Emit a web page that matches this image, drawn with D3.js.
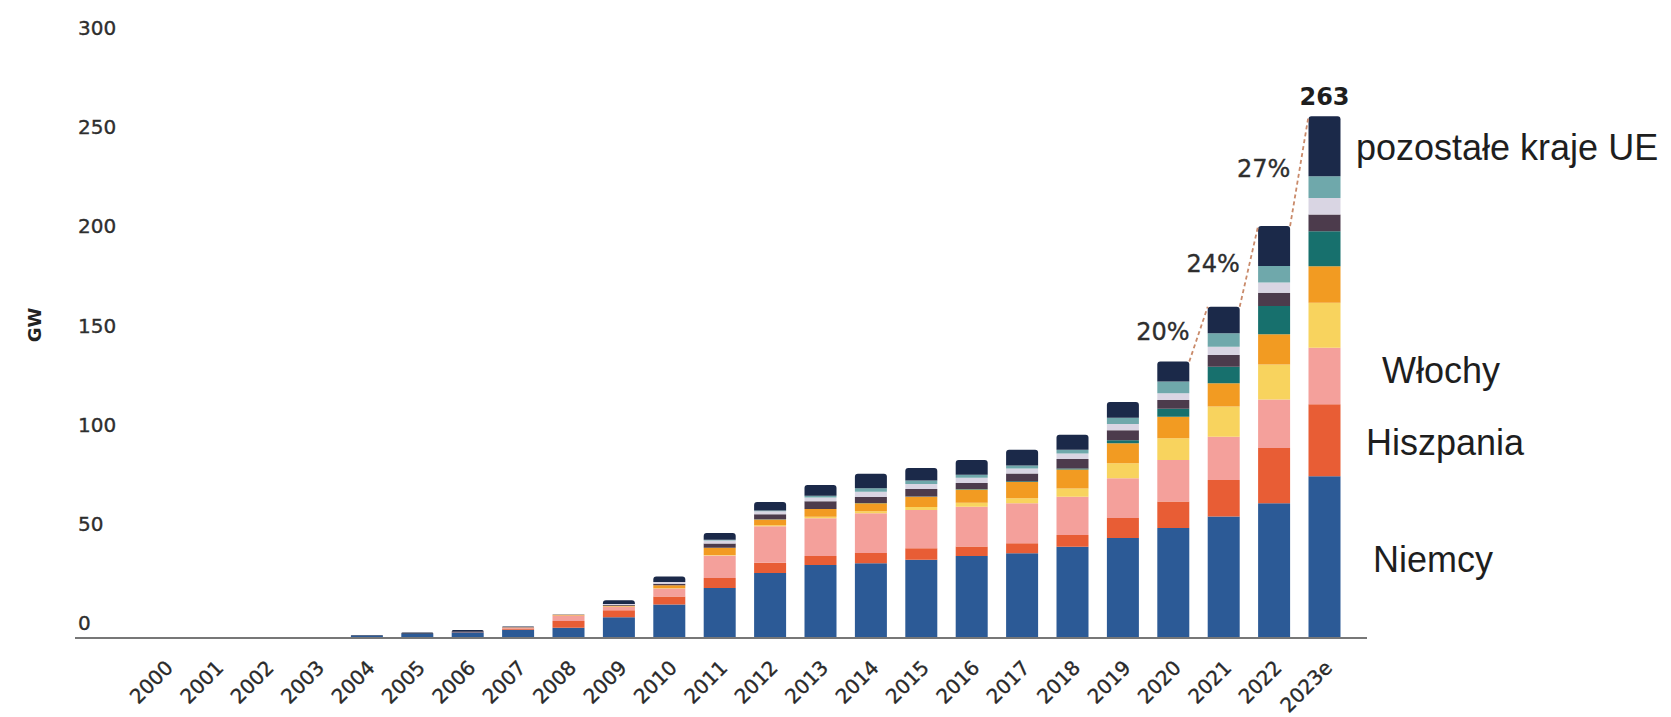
<!DOCTYPE html>
<html><head><meta charset="utf-8">
<script src="https://cdn.jsdelivr.net/npm/d3@7"></script>
<style>body{margin:0;background:#fff}svg{display:block}</style>
</head><body><svg id="c" width="1671" height="717"></svg>
<script>
const years = ["2000","2001","2002","2003","2004","2005","2006","2007","2008","2009","2010","2011","2012","2013","2014","2015","2016","2017","2018","2019","2020","2021","2022","2023e"];
const seriesNames = ["Niemcy","Hiszpania","Włochy","Holandia","Francja","Polska","Belgia","Grecja","Austria","pozostałe kraje UE"];
const niemcy    = [0.1,0.2,0.3,0.4,1.2,2.1,2.9,4.1,5.2,10.4,16.9,25.2,32.8,36.8,37.7,39.4,41.4,42.7,46.0,50.4,55.4,61.2,68.0,81.6];
const hiszpania = [0,0,0,0,0,0.1,0.2,0.7,3.4,3.6,4.0,5.1,5.1,4.6,5.1,5.8,4.7,5.1,5.9,10.1,13.4,18.5,27.8,36.2];
const wlochy    = [0,0,0,0,0,0,0.1,0.5,2.8,1.8,4.0,11.3,18.5,19.0,20.1,19.3,20.1,20.1,19.3,20.1,21.0,21.8,24.4,28.5];
const holandia  = [0,0,0,0,0,0,0,0,0,0.1,0.2,0.3,0.4,0.7,1.0,1.5,2.0,2.5,4.2,7.5,10.9,15.2,17.7,22.7];
const francja   = [0,0,0,0,0,0,0,0.1,0.3,0.4,1.5,3.6,3.0,3.9,4.1,5.2,6.7,8.3,9.6,10.1,10.9,11.8,15.2,18.5];
const polska    = [0,0,0,0,0,0,0,0,0,0,0,0,0.1,0.1,0.1,0.1,0.2,0.3,0.5,1.5,4.0,8.3,14.3,17.6];
const belgia    = [0,0,0,0,0,0,0,0,0,0.4,0.8,2.2,2.5,3.8,3.0,3.8,3.1,3.9,4.7,5.0,4.4,5.9,6.7,8.4];
const grecja    = [0,0,0,0,0,0,0,0,0.1,0.4,0.8,1.4,1.5,2.0,2.6,2.6,2.6,2.6,2.8,3.2,3.4,4.2,5.1,8.4];
const austria   = [0,0,0,0,0,0,0,0,0,0,0,0.5,0.4,0.8,1.8,1.7,1.5,1.5,1.9,3.1,5.9,6.7,8.4,10.9];
const pozostale = [0,0,0,0,0.3,0.6,0.8,0.4,0.2,1.9,2.8,3.3,4.3,5.5,7.3,6.3,7.5,7.9,7.6,8.0,10.1,13.4,20.1,30.3];
const seriesValues = [niemcy,hiszpania,wlochy,holandia,francja,polska,belgia,grecja,austria,pozostale];
const colors = ["#2c5a96","#e85d35","#f4a09b","#f8d35e","#f29b22","#17706d","#4c3b4c","#d9d5e3","#6fa8ab","#1b2949"];
const yTicks = [0,50,100,150,200,250,300];
const sideLabels = [
  {text:"pozostałe kraje UE", x:1356, y:160},
  {text:"Włochy", x:1382, y:383},
  {text:"Hiszpania", x:1366, y:455},
  {text:"Niemcy", x:1373, y:572}
];
const growthFrom = ["2020","2021","2022"];

const rows = years.map((yr,i)=>{
  const r = {year:yr};
  seriesNames.forEach((s,j)=>{ r[s] = seriesValues[j][i]; });
  return r;
});
const totals = rows.map(r=>d3.sum(seriesNames,s=>r[s]));

const svg = d3.select("#c");
const x = d3.scaleBand().domain(years).range([140.1,1349.7]).paddingInner(0.365).paddingOuter(0.1825);
const y = d3.scaleLinear().domain([0,300]).range([638,43]);
const color = d3.scaleOrdinal().domain(seriesNames).range(colors);

const stacked = d3.stack().keys(seriesNames)(rows);
const topIdx = rows.map(r=>{ let t=-1; seriesNames.forEach((s,j)=>{ if(r[s]>0) t=j; }); return t; });

const g = svg.append("g");
stacked.forEach((layer,j)=>{
  g.append("g").attr("fill", color(layer.key))
    .selectAll("path").data(layer).join("path")
    .attr("d",(d,i)=>{
      const x0 = x(d.data.year), w = x.bandwidth();
      const yt = y(d[1]), yb = y(d[0]);
      const h = yb - yt;
      if(h<=0) return null;
      const r = (topIdx[i]===j) ? Math.min(3,h) : 0;
      return `M${x0},${yb}V${yt+r}Q${x0},${yt} ${x0+r},${yt}H${x0+w-r}Q${x0+w},${yt} ${x0+w},${yt+r}V${yb}Z`;
    });
});

// baseline
svg.append("line").attr("x1",75).attr("x2",1367).attr("y1",y(0)).attr("y2",y(0))
  .attr("stroke","#777").attr("stroke-width",2);

// y axis labels
const yAxis = svg.append("g").call(d3.axisLeft(y).tickValues(yTicks).tickSize(0).tickFormat(d3.format("d")));
yAxis.select(".domain").remove();
yAxis.selectAll("text").attr("x",78).attr("dy","-14").attr("dominant-baseline","middle")
  .attr("text-anchor","start").attr("fill","#2e2e2e").attr("stroke","#2e2e2e").attr("stroke-width",0.35)
  .style("font-family","DejaVu Sans").style("font-size","20px");

// x axis labels
const xAxis = svg.append("g").attr("transform",`translate(0,${y(0)})`).call(d3.axisBottom(x).tickSize(0));
xAxis.select(".domain").remove();
xAxis.selectAll("text").attr("x",0).attr("y",0).attr("dy",0)
  .attr("text-anchor","end").attr("transform","translate(9,31) rotate(-45)")
  .attr("fill","#2a2a2a").attr("stroke","#2a2a2a").attr("stroke-width",0.35)
  .style("font-family","DejaVu Sans").style("font-size","20px");

// GW title
svg.append("text").attr("transform","translate(41,325) rotate(-90)").attr("text-anchor","middle")
  .attr("fill","#222").style("font-family","DejaVu Sans").style("font-weight","bold").style("font-size","18px").text("GW");

// growth lines and labels
const fmtPct = d3.format(".0%");
growthFrom.forEach(yr=>{
  const i = years.indexOf(yr);
  const x1 = x(years[i]) + x.bandwidth(), y1 = y(totals[i]);
  const x2 = x(years[i+1]), y2 = y(totals[i+1]);
  svg.append("line").attr("x1",x1).attr("y1",y1).attr("x2",x2).attr("y2",y2)
    .attr("stroke","#c98a6a").attr("stroke-width",1.8).attr("stroke-dasharray","4,3");
  const mx = (x1+x2)/2, my = (y1+y2)/2;
  svg.append("text").attr("x",mx-9).attr("y",my-1).attr("dominant-baseline","middle").attr("text-anchor","end")
    .attr("fill","#2e2e2e").attr("stroke","#2e2e2e").attr("stroke-width",0.35)
    .style("font-family","DejaVu Sans").style("font-size","24px")
    .text(fmtPct(totals[i+1]/totals[i]-1));
});

// total label on last bar
const last = years.length-1;
svg.append("text").attr("x",x(years[last])+x.bandwidth()/2).attr("y",y(totals[last])-11)
  .attr("text-anchor","middle").attr("fill","#1e1e1e").style("font-family","DejaVu Sans").style("font-weight","bold").style("font-size","24px")
  .text(d3.format(".0f")(totals[last]));

// side labels
svg.selectAll(".side").data(sideLabels).join("text").attr("class","side")
  .attr("x",d=>d.x).attr("y",d=>d.y).attr("fill","#1e1e1e")
  .style("font-family","Liberation Sans, Arial, sans-serif").style("font-size","36px")
  .text(d=>d.text);
</script></body></html>
